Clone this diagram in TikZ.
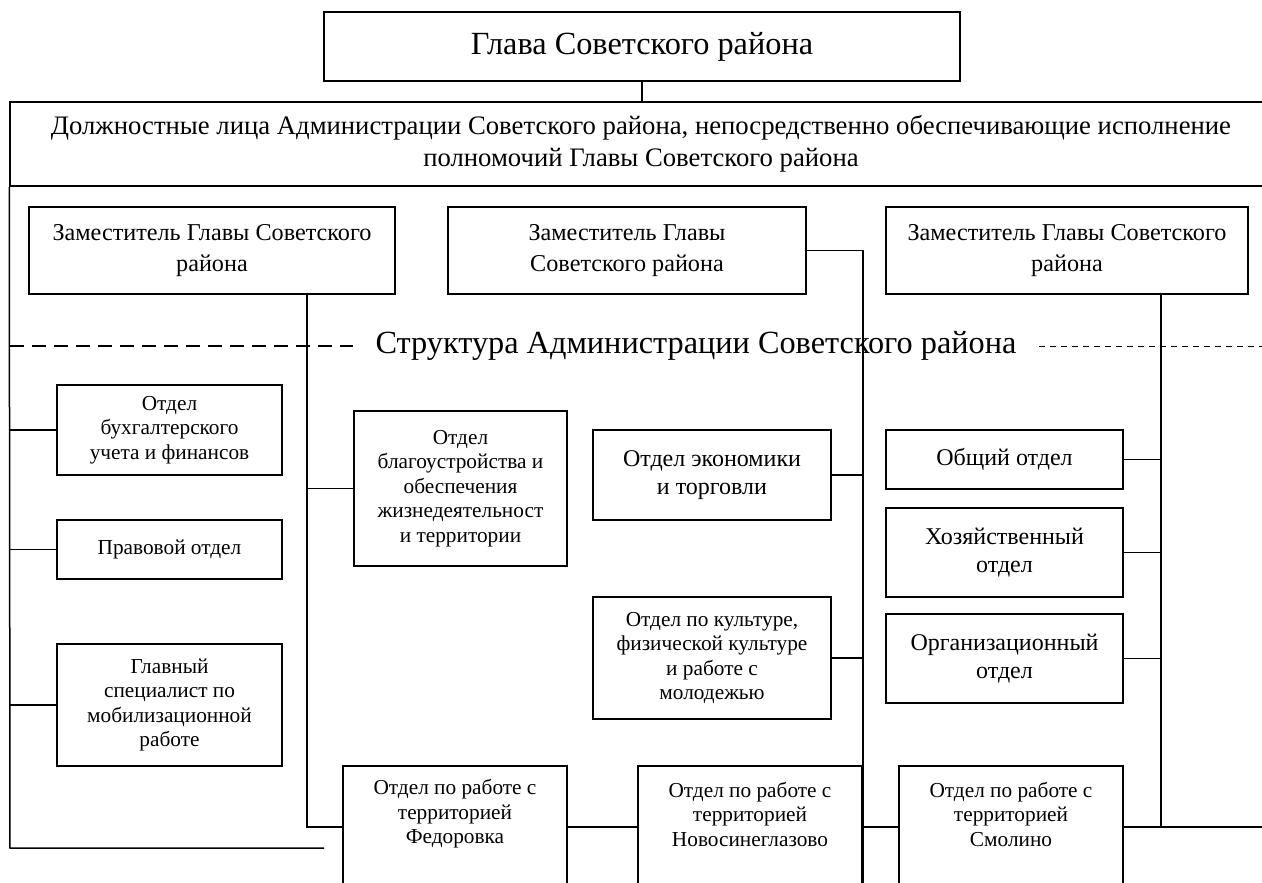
\documentclass[tikz,border=0pt]{standalone}
\usepackage{fontspec}
\setmainfont{Liberation Serif}

\begin{document}
\begin{tikzpicture}[x=1pt,y=-1pt,line width=1.5pt]
        \tikzstyle{every node}+=[inner sep=0pt]
        \tikzstyle{box}=[draw=black, align=center]
        \tikzstyle{huge}=[font=\fontsize{32.3}{36}\selectfont]
        \tikzstyle{large}=[font=\fontsize{26.7}{32}\selectfont]
        \tikzstyle{deputy}=[font=\fontsize{24.2}{31.5}\selectfont]
        \tikzstyle{mid}=[font=\fontsize{24}{28}\selectfont]
        \tikzstyle{small}=[font=\fontsize{21.3}{24.5}\selectfont]
        \useasboundingbox (0,0) rectangle (1262,883);
        \clip (0,0) rectangle (1262,883);
        % head and officials
        \node [box, huge, minimum width=636, minimum height=69] (glava) at (642,46.5) {Глава Советского района};
        \node [box, large, minimum width=1262, minimum height=84] (dolzh) at (641,144) {Должностные лица Администрации Советского района, непосредственно обеспечивающие исполнение\\полномочий Главы Советского района};
        \node [box, deputy, minimum width=366, minimum height=87] (zam1) at (212,250.5) {Заместитель Главы Советского\\района};
        \node [box, deputy, minimum width=358, minimum height=87] (zam2) at (627,250.5) {Заместитель Главы\\Советского района};
        \node [box, deputy, minimum width=362, minimum height=87] (zam3) at (1067,250.5) {Заместитель Главы Советского\\района};
        \node [huge, inner xsep=22pt] (struct) at (696,346) {Структура Администрации Советского района};
        % departments
        \node [box, small, minimum width=225, minimum height=90] (buh) at (169.5,430) {Отдел\\бухгалтерского\\учета и финансов};
        \node [box, small, minimum width=225, minimum height=59] (prav) at (169.5,549.5) {Правовой отдел};
        \node [box, small, minimum width=225, minimum height=122] (glspec) at (169.5,705) {Главный\\специалист по\\мобилизационной\\работе};
        \node [box, small, minimum width=213, minimum height=155] (blag) at (460.5,488.5) {Отдел\\благоустройства и\\обеспечения\\жизнедеятельност\\и территории};
        \node [box, mid, minimum width=238, minimum height=90] (ekon) at (712,475) {Отдел экономики\\и торговли};
        \node [box, small, minimum width=238, minimum height=122] (kult) at (712,658) {Отдел по культуре,\\физической культуре\\и работе с\\молодежью};
        \node [box, mid, minimum width=237, minimum height=59] (obsh) at (1004.5,459.5) {Общий отдел};
        \node [box, mid, minimum width=237, minimum height=89] (hoz) at (1004.5,552.5) {Хозяйственный\\отдел};
        \node [box, mid, minimum width=237, minimum height=89] (org) at (1004.5,658.5) {Организационный\\отдел};
        % territories
        \node [box, minimum width=224, minimum height=122] (fed) at (455,827) {};
        \node [box, minimum width=224, minimum height=122] (nov) at (750,827) {};
        \node [box, minimum width=224, minimum height=122] (smol) at (1011,827) {};
        \node [small, align=center] (fedt) at (455,814) {Отдел по работе с\\территорией\\Федоровка};
        \node [small, align=center] (novt) at (750,814) {Отдел по работе с\\территорией\\Новосинеглазово};
        \node [small, align=center] (smolt) at (1011,814) {Отдел по работе с\\территорией\\Смолино};
        \coordinate (lbot) at (10,848);
        \coordinate (lend) at (324,848);
        \coordinate (bus1) at (307,827);
        \coordinate (bus3) at (1161,827);
        \coordinate (rend) at (1262,827);
        % connectors
        \draw [black] (glava.south) -- (glava.south |- dolzh.north);
        \draw [black] (dolzh.south west) -- (lbot) -- (lend);
        \draw [black] (buh.west) -- (buh.west -| lbot);
        \draw [black] (prav.west) -- (prav.west -| lbot);
        \draw [black] (glspec.west) -- (glspec.west -| lbot);
        \draw [black] (zam1.south -| bus1) -- (bus1) -- (fed.west);
        \draw [black] (blag.west) -- (blag.west -| bus1);
        \draw [black] (zam2.east) -- (zam2.east -| nov.east) -- (nov.south east);
        \draw [black] (ekon.east) -- (ekon.east -| nov.east);
        \draw [black] (kult.east) -- (kult.east -| nov.east);
        \draw [black] (fed.east) -- (nov.west);
        \draw [black] (nov.east) -- (smol.west);
        \draw [black] (zam3.south -| bus3) -- (bus3);
        \draw [black] (smol.east) -- (rend);
        \draw [black] (obsh.east) -- (obsh.east -| bus3);
        \draw [black] (hoz.east) -- (hoz.east -| bus3);
        \draw [black] (org.east) -- (org.east -| bus3);
        \draw [black, dash pattern=on 14pt off 8pt] (struct.west -| lbot) -- (struct.west);
        \draw [black, line width=1pt, dash pattern=on 6pt off 5pt] (struct.east) -- (struct.east -| rend);
\end{tikzpicture}
\end{document}
